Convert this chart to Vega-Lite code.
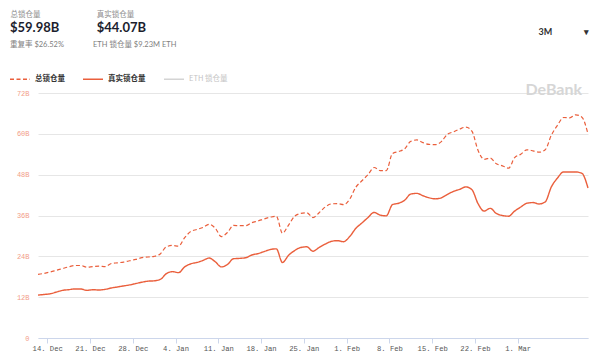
{
  "$schema": "https://vega.github.io/schema/vega-lite/v6.json",
  "width": 550,
  "height": 245,
  "autosize": {"type": "none"},
  "padding": {"left": 38, "top": 93, "right": 12, "bottom": 24},
  "background": "white",
  "title": {
    "text": "$59.98B\u2003\u2003\u2003\u2002\u2009$44.07B",
    "subtitle": "重复率 $26.52%\u2003\u2003\u2003\u2003\u2003\u2009ETH 锁仓量 $9.23M ETH",
    "anchor": "start",
    "frame": "group",
    "dx": -28,
    "offset": 0,
    "dy": 38,
    "font": "Lato, 'Noto Sans CJK SC'",
    "fontSize": 13,
    "fontWeight": "bold",
    "color": "#1c1e2e",
    "subtitleFont": "Lato, 'Noto Sans CJK SC'",
    "subtitleFontSize": 7.5,
    "subtitleColor": "#808080",
    "subtitlePadding": 6
  },
  "data": {"values": [
    {"date": "2020-12-12T12:00:00", "总锁仓量": 18.7, "真实锁仓量": 12.6},
    {"date": "2020-12-13T12:00:00", "总锁仓量": 19.0, "真实锁仓量": 12.8},
    {"date": "2020-12-14T12:00:00", "总锁仓量": 19.4, "真实锁仓量": 13.0},
    {"date": "2020-12-15T12:00:00", "总锁仓量": 19.9, "真实锁仓量": 13.5},
    {"date": "2020-12-16T12:00:00", "总锁仓量": 20.4, "真实锁仓量": 14.0},
    {"date": "2020-12-17T12:00:00", "总锁仓量": 20.9, "真实锁仓量": 14.2},
    {"date": "2020-12-18T12:00:00", "总锁仓量": 21.3, "真实锁仓量": 14.4},
    {"date": "2020-12-19T12:00:00", "总锁仓量": 21.3, "真实锁仓量": 14.4},
    {"date": "2020-12-20T12:00:00", "总锁仓量": 20.8, "真实锁仓量": 14.0},
    {"date": "2020-12-21T12:00:00", "总锁仓量": 21.0, "真实锁仓量": 14.2},
    {"date": "2020-12-22T12:00:00", "总锁仓量": 21.1, "真实锁仓量": 14.1},
    {"date": "2020-12-23T12:00:00", "总锁仓量": 21.0, "真实锁仓量": 14.3},
    {"date": "2020-12-24T12:00:00", "总锁仓量": 21.9, "真实锁仓量": 14.7},
    {"date": "2020-12-25T12:00:00", "总锁仓量": 22.1, "真实锁仓量": 15.0},
    {"date": "2020-12-26T12:00:00", "总锁仓量": 22.3, "真实锁仓量": 15.3},
    {"date": "2020-12-27T12:00:00", "总锁仓量": 22.7, "真实锁仓量": 15.6},
    {"date": "2020-12-28T12:00:00", "总锁仓量": 23.1, "真实锁仓量": 16.0},
    {"date": "2020-12-29T12:00:00", "总锁仓量": 23.6, "真实锁仓量": 16.4},
    {"date": "2020-12-30T12:00:00", "总锁仓量": 23.8, "真实锁仓量": 16.7},
    {"date": "2020-12-31T12:00:00", "总锁仓量": 24.0, "真实锁仓量": 16.8},
    {"date": "2021-01-01T12:00:00", "总锁仓量": 24.7, "真实锁仓量": 17.2},
    {"date": "2021-01-02T12:00:00", "总锁仓量": 26.8, "真实锁仓量": 18.9},
    {"date": "2021-01-03T12:00:00", "总锁仓量": 27.2, "真实锁仓量": 19.5},
    {"date": "2021-01-04T12:00:00", "总锁仓量": 27.0, "真实锁仓量": 19.2},
    {"date": "2021-01-05T12:00:00", "总锁仓量": 29.5, "真实锁仓量": 20.9},
    {"date": "2021-01-06T12:00:00", "总锁仓量": 31.3, "真实锁仓量": 21.8},
    {"date": "2021-01-07T12:00:00", "总锁仓量": 31.9, "真实锁仓量": 22.2},
    {"date": "2021-01-08T12:00:00", "总锁仓量": 32.5, "真实锁仓量": 22.8},
    {"date": "2021-01-09T12:00:00", "总锁仓量": 33.4, "真实锁仓量": 23.5},
    {"date": "2021-01-10T12:00:00", "总锁仓量": 32.3, "真实锁仓量": 22.4},
    {"date": "2021-01-11T12:00:00", "总锁仓量": 29.8, "真实锁仓量": 20.9},
    {"date": "2021-01-12T12:00:00", "总锁仓量": 31.0, "真实锁仓量": 21.6},
    {"date": "2021-01-13T12:00:00", "总锁仓量": 33.1, "真实锁仓量": 23.3},
    {"date": "2021-01-14T12:00:00", "总锁仓量": 33.0, "真实锁仓量": 23.4},
    {"date": "2021-01-15T12:00:00", "总锁仓量": 33.0, "真实锁仓量": 23.6},
    {"date": "2021-01-16T12:00:00", "总锁仓量": 33.9, "真实锁仓量": 24.4},
    {"date": "2021-01-17T12:00:00", "总锁仓量": 34.4, "真实锁仓量": 24.8},
    {"date": "2021-01-18T12:00:00", "总锁仓量": 35.0, "真实锁仓量": 25.4},
    {"date": "2021-01-19T12:00:00", "总锁仓量": 35.5, "真实锁仓量": 26.0},
    {"date": "2021-01-20T12:00:00", "总锁仓量": 35.8, "真实锁仓量": 26.2},
    {"date": "2021-01-21T12:00:00", "总锁仓量": 30.8, "真实锁仓量": 22.2},
    {"date": "2021-01-22T12:00:00", "总锁仓量": 33.2, "真实锁仓量": 24.3},
    {"date": "2021-01-23T12:00:00", "总锁仓量": 35.8, "真实锁仓量": 25.7},
    {"date": "2021-01-24T12:00:00", "总锁仓量": 36.6, "真实锁仓量": 26.6},
    {"date": "2021-01-25T12:00:00", "总锁仓量": 36.8, "真实锁仓量": 26.8},
    {"date": "2021-01-26T12:00:00", "总锁仓量": 35.4, "真实锁仓量": 25.5},
    {"date": "2021-01-27T12:00:00", "总锁仓量": 36.8, "真实锁仓量": 26.6},
    {"date": "2021-01-28T12:00:00", "总锁仓量": 38.5, "真实锁仓量": 27.6},
    {"date": "2021-01-29T12:00:00", "总锁仓量": 39.4, "真实锁仓量": 28.4},
    {"date": "2021-01-30T12:00:00", "总锁仓量": 39.5, "真实锁仓量": 28.6},
    {"date": "2021-01-31T12:00:00", "总锁仓量": 39.2, "真实锁仓量": 28.3},
    {"date": "2021-02-01T12:00:00", "总锁仓量": 40.8, "真实锁仓量": 29.8},
    {"date": "2021-02-02T12:00:00", "总锁仓量": 44.3, "真实锁仓量": 32.2},
    {"date": "2021-02-03T12:00:00", "总锁仓量": 46.2, "真实锁仓量": 33.8},
    {"date": "2021-02-04T12:00:00", "总锁仓量": 48.0, "真实锁仓量": 35.4},
    {"date": "2021-02-05T12:00:00", "总锁仓量": 50.1, "真实锁仓量": 36.9},
    {"date": "2021-02-06T12:00:00", "总锁仓量": 49.2, "真实锁仓量": 36.1},
    {"date": "2021-02-07T12:00:00", "总锁仓量": 49.2, "真实锁仓量": 35.9},
    {"date": "2021-02-08T12:00:00", "总锁仓量": 54.2, "真实锁仓量": 39.2},
    {"date": "2021-02-09T12:00:00", "总锁仓量": 54.8, "真实锁仓量": 39.6},
    {"date": "2021-02-10T12:00:00", "总锁仓量": 55.6, "真实锁仓量": 40.5},
    {"date": "2021-02-11T12:00:00", "总锁仓量": 57.8, "真实锁仓量": 42.3},
    {"date": "2021-02-12T12:00:00", "总锁仓量": 58.2, "真实锁仓量": 42.5},
    {"date": "2021-02-13T12:00:00", "总锁仓量": 57.4, "真实锁仓量": 41.8},
    {"date": "2021-02-14T12:00:00", "总锁仓量": 56.9, "真实锁仓量": 41.2},
    {"date": "2021-02-15T12:00:00", "总锁仓量": 56.8, "真实锁仓量": 40.9},
    {"date": "2021-02-16T12:00:00", "总锁仓量": 57.7, "真实锁仓量": 41.2},
    {"date": "2021-02-17T12:00:00", "总锁仓量": 59.9, "真实锁仓量": 42.2},
    {"date": "2021-02-18T12:00:00", "总锁仓量": 60.6, "真实锁仓量": 43.1},
    {"date": "2021-02-19T12:00:00", "总锁仓量": 61.4, "真实锁仓量": 43.7},
    {"date": "2021-02-20T12:00:00", "总锁仓量": 62.0, "真实锁仓量": 44.4},
    {"date": "2021-02-21T12:00:00", "总锁仓量": 60.8, "真实锁仓量": 43.6},
    {"date": "2021-02-22T12:00:00", "总锁仓量": 55.2, "真实锁仓量": 39.5},
    {"date": "2021-02-23T12:00:00", "总锁仓量": 52.5, "真实锁仓量": 37.3},
    {"date": "2021-02-24T12:00:00", "总锁仓量": 52.9, "真实锁仓量": 38.1},
    {"date": "2021-02-25T12:00:00", "总锁仓量": 51.2, "真实锁仓量": 36.6},
    {"date": "2021-02-26T12:00:00", "总锁仓量": 50.6, "真实锁仓量": 36.0},
    {"date": "2021-02-27T12:00:00", "总锁仓量": 49.9, "真实锁仓量": 35.8},
    {"date": "2021-02-28T12:00:00", "总锁仓量": 53.0, "真实锁仓量": 37.3},
    {"date": "2021-03-01T12:00:00", "总锁仓量": 54.0, "真实锁仓量": 38.5},
    {"date": "2021-03-02T12:00:00", "总锁仓量": 55.3, "真实锁仓量": 39.6},
    {"date": "2021-03-03T12:00:00", "总锁仓量": 55.0, "真实锁仓量": 39.8},
    {"date": "2021-03-04T12:00:00", "总锁仓量": 54.6, "真实锁仓量": 39.4},
    {"date": "2021-03-05T12:00:00", "总锁仓量": 55.3, "真实锁仓量": 40.0},
    {"date": "2021-03-06T12:00:00", "总锁仓量": 59.6, "真实锁仓量": 44.4},
    {"date": "2021-03-07T12:00:00", "总锁仓量": 62.5, "真实锁仓量": 47.0},
    {"date": "2021-03-08T12:00:00", "总锁仓量": 64.8, "真实锁仓量": 48.8},
    {"date": "2021-03-09T12:00:00", "总锁仓量": 64.7, "真实锁仓量": 48.8},
    {"date": "2021-03-10T12:00:00", "总锁仓量": 65.6, "真实锁仓量": 48.8},
    {"date": "2021-03-11T12:00:00", "总锁仓量": 64.9, "真实锁仓量": 48.4},
    {"date": "2021-03-12T12:00:00", "总锁仓量": 59.98, "真实锁仓量": 44.07}
  ]},
  "transform": [{"fold": ["总锁仓量", "真实锁仓量"], "as": ["series", "value"]}],
  "encoding": {
    "x": {
      "field": "date",
      "type": "temporal",
      "scale": {"nice": false},
      "axis": {
        "values": [
          {"year": 2020, "month": 12, "date": 14},
          {"year": 2020, "month": 12, "date": 21},
          {"year": 2020, "month": 12, "date": 28},
          {"year": 2021, "month": 1, "date": 4},
          {"year": 2021, "month": 1, "date": 11},
          {"year": 2021, "month": 1, "date": 18},
          {"year": 2021, "month": 1, "date": 25},
          {"year": 2021, "month": 2, "date": 1},
          {"year": 2021, "month": 2, "date": 8},
          {"year": 2021, "month": 2, "date": 15},
          {"year": 2021, "month": 2, "date": 22},
          {"year": 2021, "month": 3, "date": 1}
        ],
        "labelExpr": "timeFormat(datum.value, '%-d. %b')",
        "labelFont": "Liberation Mono",
        "labelFontSize": 7.2,
        "labelColor": "#555555",
        "labelPadding": 1,
        "labelOverlap": false,
        "tickSize": 5,
        "tickColor": "#ccd6eb",
        "domainColor": "#ccd6eb",
        "grid": false,
        "title": "3M\u2003\u2003\u2003\u2003\u2002▾",
        "titleX": 500,
        "titleY": -307,
        "titleAlign": "left",
        "titleBaseline": "middle",
        "titleAnchor": null,
        "titleFont": "Lato",
        "titleFontSize": 9,
        "titleFontWeight": "bold",
        "titleColor": "#333333"
      }
    },
    "color": {
      "field": "series",
      "type": "nominal",
      "scale": {
        "domain": ["总锁仓量", "真实锁仓量", "ETH 锁仓量"],
        "range": ["#ea5f3c", "#ea5f3c", "#d4d4d4"]
      },
      "legend": {
        "title": null,
        "orient": "none",
        "legendX": -29,
        "legendY": -25,
        "direction": "horizontal",
        "symbolType": "stroke",
        "symbolSize": 400,
        "symbolStrokeWidth": 1.3,
        "labelFont": "'Noto Sans CJK SC'",
        "labelFontSize": 7.5,
        "labelFontWeight": "bold",
        "labelColor": "#333333",
        "labelOffset": 4,
        "columnPadding": 15,
        "encode": {
          "labels": {"update": {"fill": {"signal": "datum.label === 'ETH 锁仓量' ? '#c4c4c4' : '#333333'"}, "fontWeight": {"signal": "datum.label === 'ETH 锁仓量' ? 'normal' : 'bold'"}}}
        }
      }
    },
    "strokeDash": {
      "field": "series",
      "type": "nominal",
      "scale": {
        "domain": ["总锁仓量", "真实锁仓量", "ETH 锁仓量"],
        "range": [[4, 2.5], [1, 0], [1, 0]]
      }
    }
  },
  "layer": [
    {
      "transform": [{"filter": "datum.series === '总锁仓量'"}],
      "mark": {"type": "line", "interpolate": "monotone", "strokeWidth": 1.2},
      "encoding": {
        "y": {
          "field": "value",
          "type": "quantitative",
          "scale": {"domain": [0, 72], "nice": false},
          "axis": {
            "values": [0, 12, 24, 36, 48, 60, 72],
            "labelExpr": "datum.value === 0 ? '0' : datum.value + 'B'",
            "labelFont": "Liberation Mono",
            "labelFontSize": 7,
            "labelColor": "#f29c89",
            "labelPadding": 9,
            "ticks": false,
            "domain": false,
            "gridColor": "#e6e6e6",
            "title": "总锁仓量\u2003\u2003\u2003\u2003\u2003\u2003\u2003\u2002真实锁仓量",
            "titleX": -28,
            "titleY": -79,
            "titleAngle": 0,
            "titleAlign": "left",
            "titleBaseline": "middle",
            "titleAnchor": null,
            "titleFont": "'Noto Sans CJK SC'",
            "titleFontSize": 7.5,
            "titleFontWeight": "normal",
            "titleColor": "#8c8c8c"
          }
        }
      }
    },
    {
      "transform": [{"filter": "datum.series === '真实锁仓量'"}],
      "mark": {"type": "line", "interpolate": "monotone", "strokeWidth": 1.4},
      "encoding": {
        "y": {
          "field": "value",
          "type": "quantitative",
          "axis": {
            "orient": "right",
            "labels": false,
            "ticks": false,
            "domain": false,
            "grid": false,
            "title": "DeBank",
            "titleX": -63,
            "titleY": -4,
            "titleAngle": 0,
            "titleAlign": "left",
            "titleBaseline": "middle",
            "titleAnchor": null,
            "titleFont": "Lato",
            "titleFontSize": 16,
            "titleFontWeight": "bold",
            "titleColor": "#d6d6d6"
          }
        }
      }
    }
  ],
  "resolve": {"axis": {"y": "independent"}},
  "config": {
    "view": {"stroke": null}
  }
}
